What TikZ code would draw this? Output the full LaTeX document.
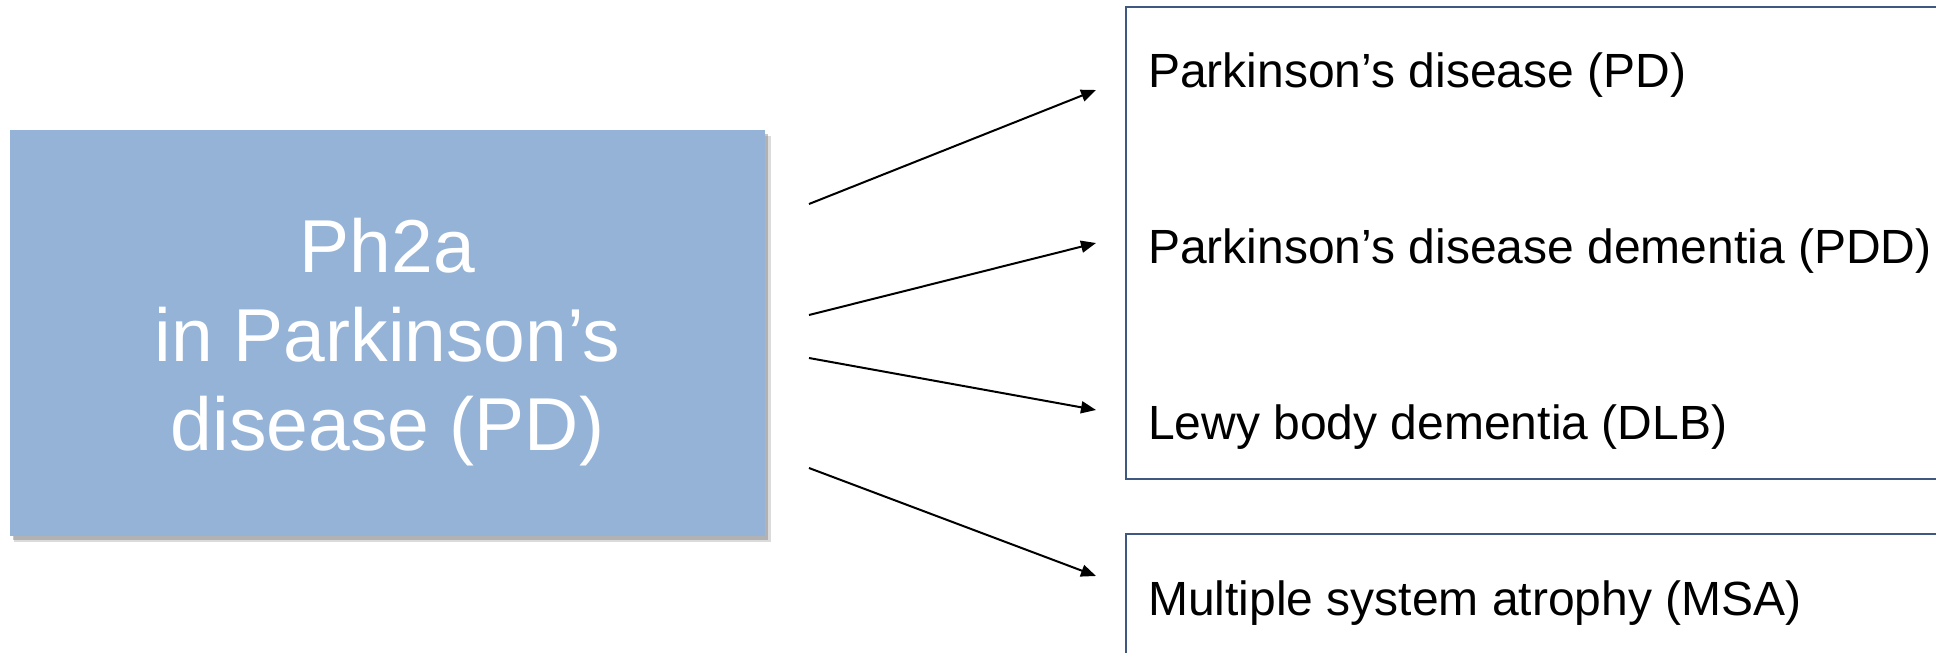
\documentclass[tikz,border=0pt]{standalone}
\usepackage{fontspec}
\setmainfont{Liberation Sans}
\usetikzlibrary{arrows.meta}
\definecolor{boxblue}{RGB}{149,179,215}
\definecolor{edgeblue}{RGB}{62,88,128}
\tikzset{
  mainbox/.style={fill=boxblue, draw=none, minimum width=755pt, minimum height=406pt, inner sep=0pt},
  maintext/.style={text=white, align=center, inner sep=0pt, anchor=base, font=\fontsize{75}{89}\selectfont},
  grpbox/.style={draw=edgeblue, line width=1.5pt, fill=none},
  itemtext/.style={anchor=base west, inner sep=0pt, font=\fontsize{48}{58}\selectfont},
  link/.style={line width=2pt, -{Triangle[length=15pt,width=12pt]}}
}
\begin{document}
\begin{tikzpicture}[x=1pt,y=-1pt]
\useasboundingbox (0,0) rectangle (1936,653);
% shadow
\fill[black!40, opacity=0.35] (14,136) rectangle (771,542);
\fill[black!50, opacity=0.45] (13,134) rectangle (768,540);
\node[mainbox] (ph) at (387.5,333) {};
\node[maintext] (phtxt) at (387.5,450) {Ph2a\\in Parkinson’s\\disease (PD)};
% group boxes
\draw[grpbox] (1936,7) -- (1126,7) -- (1126,479) -- (1936,479);
\draw[grpbox] (1936,534) -- (1126,534) -- (1126,660);
% texts
\node[itemtext] (pd) at (1148,87) {Parkinson’s disease (PD)};
\node[itemtext] (pdd) at (1148,263) {Parkinson’s disease dementia (PDD)};
\node[itemtext] (dlb) at (1148,439) {Lewy body dementia (DLB)};
\node[itemtext] (msa) at (1148,615) {Multiple system atrophy (MSA)};
% arrow ends
\coordinate (s1) at (809,204); \coordinate (e1) at (1096,90);
\coordinate (s2) at (809,315); \coordinate (e2) at (1096,243);
\coordinate (s3) at (809,358); \coordinate (e3) at (1096,410);
\coordinate (s4) at (809,468); \coordinate (e4) at (1096,576);
\draw[link] (s1) -- (e1);
\draw[link] (s2) -- (e2);
\draw[link] (s3) -- (e3);
\draw[link] (s4) -- (e4);
\end{tikzpicture}
\end{document}
